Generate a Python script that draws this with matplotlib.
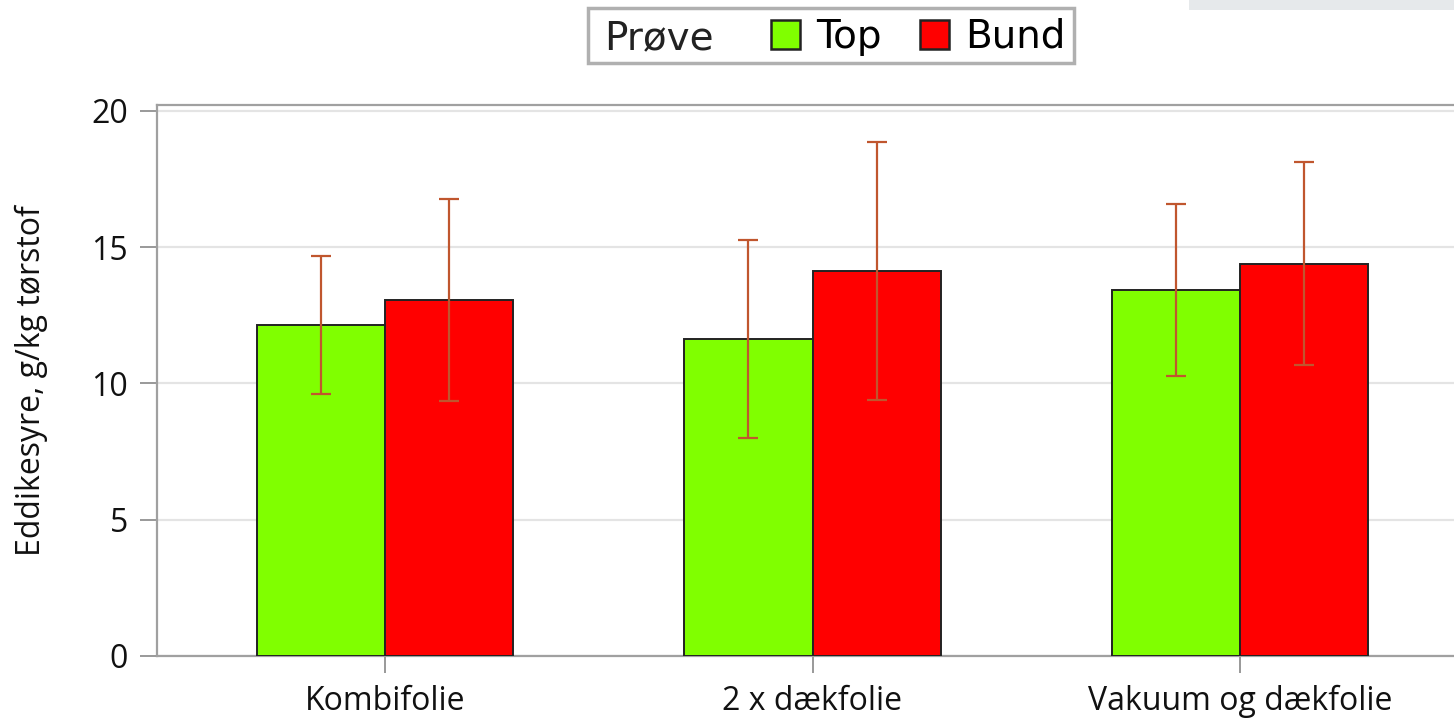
import numpy as np
import matplotlib.pyplot as plt
from matplotlib.patches import Rectangle, Patch

# Data
categories = ['Kombifolie', '2 x dækfolie', 'Vakuum og dækfolie']
top_mean = [12.15, 11.63, 13.43]
top_err = [2.53, 3.62, 3.15]
bund_mean = [13.06, 14.13, 14.39]
bund_err = [3.71, 4.73, 3.72]
yticks = [0, 5, 10, 15, 20]

plt.rcParams['font.family'] = ['Open Sans', 'DejaVu Sans']

fig = plt.figure(figsize=(14.54, 7.24), dpi=100)
ax = fig.add_axes([157 / 1454, 68 / 724, 1311 / 1454, 551 / 724])

x = np.arange(len(categories))
w = 0.3
err_kw = dict(ecolor='#c0562e', elinewidth=1.6, capsize=7, capthick=1.6)
ax.bar(x - w / 2, top_mean, w, yerr=top_err, color='#80ff00',
       edgecolor='#222222', linewidth=1.4, error_kw=err_kw, zorder=3)
ax.bar(x + w / 2, bund_mean, w, yerr=bund_err, color='#ff0000',
       edgecolor='#222222', linewidth=1.4, error_kw=err_kw, zorder=3)

ax.set_xlim(-0.534, 2.534)
ax.set_ylim(0, 20.22)
ax.set_yticks(yticks)
ax.set_xticks(x)
ax.set_xticklabels(categories)
ax.grid(axis='y', color='#e4e4e4', linewidth=1.6, zorder=0)
ax.tick_params(axis='both', length=12, width=1.4, color='#999999',
               labelsize=23, labelcolor='#111111')
ax.tick_params(axis='x', pad=9)
ax.tick_params(axis='y', pad=9)
for s in ['left', 'bottom', 'top']:
    ax.spines[s].set_color('#a0a0a0')
    ax.spines[s].set_linewidth(1.6)
ax.spines['right'].set_visible(False)

ax.set_ylabel('Eddikesyre, g/kg tørstof', fontsize=23, color='#111111')
ax.yaxis.set_label_coords(-0.083, 0.5)

# legend with inline title
fig.patches.append(Rectangle((588 / 1454, 1 - 63 / 724), 486 / 1454, 55 / 724,
                             transform=fig.transFigure, facecolor='white',
                             edgecolor='#b0b0b0', linewidth=2.5))
fig.text(604 / 1454, 1 - 38 / 724, 'Prøve', fontsize=28, va='center',
         family=['DejaVu Sans'], color='#222222')
handles = [Patch(facecolor='#80ff00', edgecolor='#222222', linewidth=1.8),
           Patch(facecolor='#ff0000', edgecolor='#222222', linewidth=1.8)]
fig.legend(handles, ['Top', 'Bund'], ncol=2, frameon=False,
           loc='center left', bbox_to_anchor=(771 / 1454, 1 - 37 / 724),
           prop={'family': 'DejaVu Sans', 'size': 28},
           handlelength=0.75, handleheight=0.75, handletextpad=0.4,
           columnspacing=1.0, borderpad=0, borderaxespad=0)

# grey strip top right
fig.patches.append(Rectangle((1189 / 1454, 1 - 10 / 724), 265 / 1454, 10 / 724,
                             transform=fig.transFigure, facecolor='#e6e9eb',
                             edgecolor='none'))

fig.savefig('out.png', dpi=100)
